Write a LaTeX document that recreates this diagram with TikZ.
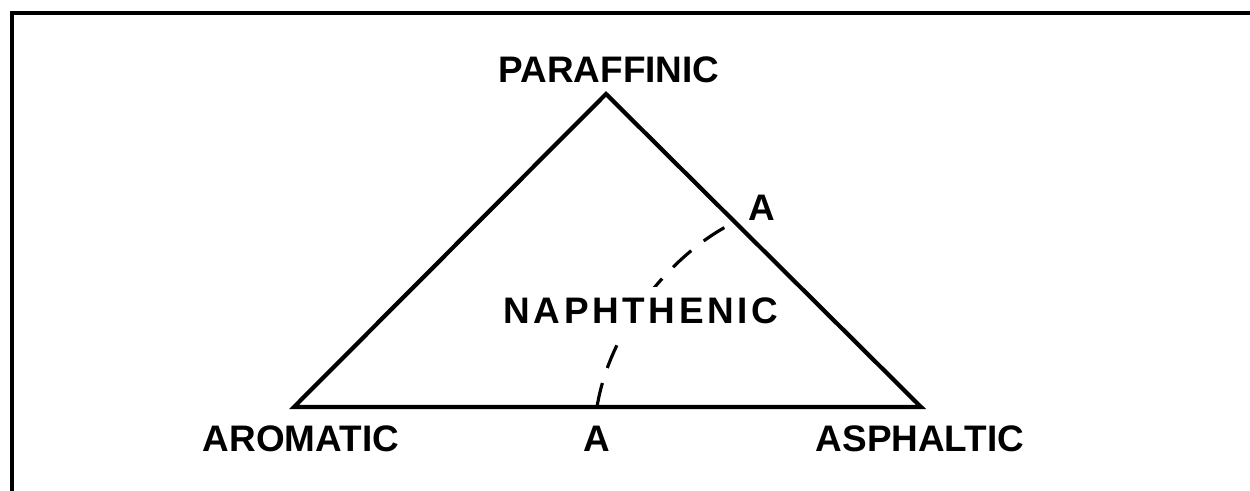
\documentclass[tikz,border=0pt]{standalone}
\usepackage{fontspec}
\setmainfont{Liberation Sans}
\begin{document}
\begin{tikzpicture}[line width=1.2pt, line join=miter,
  font=\bfseries\fontsize{10.5}{12}\selectfont,
  boundary/.style={dashed, line width=0.9pt, dash pattern=on 7pt off 4.5pt}]
% 三元图示意
\useasboundingbox (0,0) rectangle (12.5,4.91);
\draw[line width=1.4pt] (0.12,0) -- (0.12,4.78) -- (12.5,4.78);
\coordinate (top) at (6.06,3.97);
\coordinate (left) at (2.94,0.84);
\coordinate (right) at (9.21,0.84);
\coordinate (a1) at (7.35,2.69);
\coordinate (a2) at (5.97,0.84);
\draw (top) -- (right) -- (left) -- cycle;
\draw[boundary] (a2) .. controls (6.10,1.65) and (6.75,2.40) .. (a1);
\node (paraffinic) at (6.09,4.21) {PARAFFINIC};
\node (labA1) at (7.62,2.83) {A};
\node[fill=white, inner sep=3pt] (naphthenic) at (6.41,1.80)
  {\addfontfeature{LetterSpace=10}NAPHTHENIC};
\node (aromatic) at (3.01,0.52) {AROMATIC};
\node (labA2) at (5.97,0.52) {A};
\node (asphaltic) at (9.20,0.52) {ASPHALTIC};
\end{tikzpicture}
\end{document}
